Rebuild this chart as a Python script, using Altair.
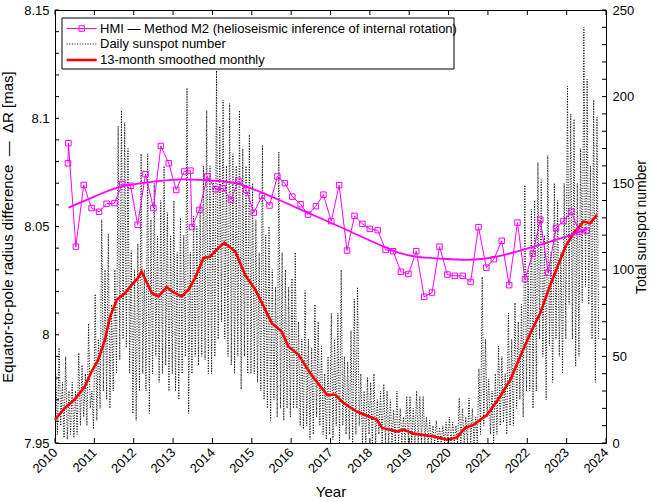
import altair as alt
import pandas as pd

# ---- HMI helioseismic equator-to-pole radius difference (72-day sets) ----
hmi_year = [2010.33, 2010.34, 2010.53, 2010.73, 2010.93, 2011.12, 2011.31, 2011.51, 2011.71, 2011.92,
            2012.10, 2012.30, 2012.50, 2012.69, 2012.89, 2013.08, 2013.28, 2013.44, 2013.48, 2013.67,
            2013.87, 2014.08, 2014.26, 2014.47, 2014.66, 2014.86, 2015.05, 2015.26, 2015.45, 2015.65,
            2015.84, 2016.03, 2016.24, 2016.43, 2016.63, 2016.82, 2017.02, 2017.22, 2017.42, 2017.61,
            2017.81, 2018.00, 2018.20, 2018.40, 2018.59, 2018.79, 2018.98, 2019.18, 2019.38, 2019.58,
            2019.77, 2019.97, 2020.16, 2020.36, 2020.56, 2020.76, 2020.96, 2021.15, 2021.35, 2021.54,
            2021.75, 2021.94, 2022.14, 2022.33, 2022.53, 2022.73, 2022.92, 2023.12, 2023.32, 2023.51]
hmi_dr = [8.0792, 8.0885, 8.0407, 8.0692, 8.0585, 8.0568, 8.0605, 8.0608, 8.0697, 8.0688,
          8.0508, 8.0742, 8.0585, 8.0872, 8.0792, 8.0669, 8.0754, 8.0758, 8.0497, 8.0577,
          8.0731, 8.0672, 8.0677, 8.0623, 8.0711, 8.0669, 8.0564, 8.0641, 8.0597, 8.0731,
          8.0700, 8.0638, 8.0603, 8.0555, 8.0594, 8.0647, 8.0525, 8.0691, 8.0389, 8.0549,
          8.0512, 8.0489, 8.0483, 8.0392, 8.0386, 8.0291, 8.0281, 8.0386, 8.0175, 8.0195,
          8.0407, 8.0278, 8.0272, 8.0272, 8.0244, 8.0497, 8.0310, 8.0349, 8.0434, 8.0229,
          8.0518, 8.0257, 8.0374, 8.0531, 8.0286, 8.0494, 8.0525, 8.0569, 8.0475, 8.0480]

# smooth trend through the HMI values
fit_year = [2010.34, 2011.0, 2011.70, 2012.5, 2013.22, 2014.0, 2014.65, 2015.5, 2016.36,
            2017.5, 2018.77, 2019.61, 2020.47, 2021.31, 2022.16, 2023.01, 2023.52]
fit_dr = [8.0587, 8.0638, 8.0685, 8.0707, 8.0718, 8.0712, 8.0697, 8.0638, 8.0569,
          8.0477, 8.0377, 8.0354, 8.0346, 8.0364, 8.0407, 8.0454, 8.0490]

# ---- 13-month smoothed monthly total sunspot number ----
ssn13_year = [2010.00, 2010.25, 2010.51, 2010.76, 2010.93, 2011.10, 2011.27, 2011.40, 2011.57, 2011.78,
              2011.95, 2012.10, 2012.20, 2012.46, 2012.63, 2012.84, 2012.97, 2013.22, 2013.39, 2013.56,
              2013.77, 2013.94, 2014.15, 2014.30, 2014.58, 2014.83, 2015.09, 2015.26, 2015.51, 2015.76,
              2015.93, 2016.19, 2016.48, 2016.74, 2016.91, 2017.12, 2017.33, 2017.67, 2018.18, 2018.31,
              2018.69, 2018.86, 2019.11, 2019.62, 2019.96, 2020.21, 2020.42, 2020.64, 2020.98, 2021.31,
              2021.57, 2021.82, 2022.08, 2022.33, 2022.54, 2022.67, 2022.97, 2023.18, 2023.43, 2023.60,
              2023.77]
ssn13 = [13.4, 20.2, 25.4, 32.7, 41.3, 48.1, 59.6, 73.0, 82.7, 86.6,
         91.3, 95.0, 99.0, 86.6, 84.6, 90.0, 87.5, 84.6, 88.5, 95.2,
         106.7, 107.7, 112.5, 115.7, 110.6, 97.1, 88.5, 80.8, 69.2, 64.4,
         55.7, 50.9, 40.4, 32.7, 27.9, 27.9, 23.1, 18.2, 13.4, 8.7,
         6.7, 7.7, 5.4, 3.8, 1.9, 3.2, 8.7, 10.6, 16.3, 26.9,
         36.5, 50.0, 63.5, 75.0, 88.5, 96.1, 113.4, 121.2, 127.9, 126.9,
         131.7]

# ---- daily total sunspot number: monthly peak and trough of the daily record ----
daily_high = {
    2010: [40, 55, 35, 50, 30, 35, 30, 52, 45, 40, 69, 30],
    2011: [86, 60, 129, 100, 121, 80, 100, 183, 192, 185, 170, 111],
    2012: [100, 115, 167, 100, 167, 129, 150, 120, 140, 160, 133, 120],
    2013: [140, 110, 130, 120, 205, 110, 131, 125, 138, 160, 192, 160],
    2014: [152, 215, 183, 198, 160, 196, 167, 160, 192, 170, 160, 178],
    2015: [150, 129, 110, 172, 120, 125, 100, 90, 168, 110, 100, 90],
    2016: [95, 110, 70, 60, 88, 60, 55, 80, 70, 56, 40, 50],
    2017: [75, 60, 75, 100, 50, 47, 65, 83, 90, 40, 30, 38],
    2018: [35, 40, 25, 30, 34, 30, 25, 19, 30, 20, 15, 27],
    2019: [27, 20, 30, 27, 27, 15, 13, 10, 13, 9, 10, 12],
    2020: [15, 12, 10, 26, 20, 15, 26, 20, 15, 43, 96, 60],
    2021: [37, 30, 40, 56, 50, 40, 75, 60, 81, 70, 80, 149],
    2022: [100, 135, 140, 162, 152, 120, 166, 110, 150, 140, 110, 150],
    2023: [206, 190, 187, 150, 170, 240, 210, 160, 198, 188],
}
daily_low = {
    2010: [5, 10, 3, 2, 5, 3, 5, 10, 15, 10, 20, 8],
    2011: [13, 20, 30, 25, 20, 30, 40, 48, 60, 55, 40, 17],
    2012: [13, 30, 40, 30, 17, 40, 50, 35, 40, 45, 30, 40],
    2013: [30, 25, 40, 50, 17, 40, 50, 45, 50, 48, 40, 40],
    2014: [50, 60, 70, 60, 50, 45, 40, 50, 31, 50, 40, 40],
    2015: [40, 35, 30, 25, 20, 13, 25, 15, 20, 13, 20, 15],
    2016: [20, 20, 10, 8, 10, 2, 5, 15, 10, 5, 2, 5],
    2017: [2, 10, 0, 10, 5, 2, 0, 5, 10, 0, 0, 5],
    2018: [0, 0, 5, 0, 0, 0, 0, 0, 0, 0, 0, 0],
    2019: [0, 0, 0, 0, 0, 0, 0, 0, 0, 0, 0, 0],
    2020: [0, 0, 0, 0, 0, 0, 0, 0, 0, 5, 10, 15],
    2021: [5, 0, 5, 10, 12, 5, 10, 10, 20, 25, 15, 30],
    2022: [30, 20, 30, 60, 50, 25, 56, 35, 60, 50, 40, 60],
    2023: [80, 60, 44, 50, 81, 90, 80, 60, 35, 60],
}

# ---- axis ticks ----
year_ticks = list(range(2010, 2025))
dr_labels = [7.95, 8.0, 8.05, 8.1, 8.15]
dr_ticks = [7.95, 7.96, 7.97, 7.98, 7.99, 8.0, 8.01, 8.02, 8.03, 8.04, 8.05, 8.06, 8.07,
            8.08, 8.09, 8.1, 8.11, 8.12, 8.13, 8.14, 8.15]
ssn_labels = [0, 50, 100, 150, 200, 250]
ssn_ticks = list(range(0, 251, 10))

legend_hmi = "HMI \u2014 Method M2 (helioseismic inference of internal rotation)"
legend_daily = "Daily sunspot number"
legend_smooth = "13-month smoothed monthly"

# ---- tables ----
daily_rows = []
for yr in sorted(daily_high):
    for m, (hi, lo) in enumerate(zip(daily_high[yr], daily_low[yr])):
        daily_rows.append({"year": yr + (m + 0.25) / 12, "ssn": hi})
        daily_rows.append({"year": yr + (m + 0.75) / 12, "ssn": lo})
daily_df = pd.DataFrame(daily_rows)
ssn13_df = pd.DataFrame({"year": ssn13_year, "ssn": ssn13})
hmi_df = pd.DataFrame({"year": hmi_year, "dr": hmi_dr})
fit_df = pd.DataFrame({"year": fit_year, "dr": fit_dr})

W, H = 551, 433
MAGENTA = "#ff00ff"
RED = "#ff0000"
FONT = "Liberation Sans"
DOT = [1, 1.6]

x_scale = alt.Scale(domain=[2010, 2024], nice=False, zero=False)
dr_scale = alt.Scale(domain=[7.95, 8.15], nice=False, zero=False)
ssn_scale = alt.Scale(domain=[0, 250], nice=False, zero=False)

# one shared encoding per scale so the layers merge into a single axis each
x_enc = alt.X(
    "year:Q", scale=x_scale,
    axis=alt.Axis(values=year_ticks, format="d", labelAngle=-45, labelAlign="right",
                  labelBaseline="middle", labelPadding=7, ticks=False, tickSize=0,
                  domain=False, grid=False, title="Year", titlePadding=9),
)
ssn_enc = alt.Y(
    "ssn:Q", scale=ssn_scale,
    axis=alt.Axis(orient="right", values=ssn_labels, format="d", ticks=False, tickSize=0,
                  domain=False, grid=False, labelPadding=6,
                  title="Total sunspot number", titleAngle=270, titleBaseline="top",
                  titlePadding=1, titleFontSize=14),
)
dr_enc = alt.Y(
    "dr:Q", scale=dr_scale,
    axis=alt.Axis(orient="left", values=dr_labels, format=".3~r", ticks=False, tickSize=0,
                  domain=False, grid=False, labelPadding=6,
                  title="Equator-to-pole radius difference \u00a0\u2014\u00a0 \u0394R [mas]",
                  titlePadding=8),
)

# sunspot side (right axis)
daily = alt.Chart(daily_df).mark_line(color="black", strokeWidth=1, strokeDash=DOT).encode(
    x=x_enc, y=ssn_enc
)
smooth = alt.Chart(ssn13_df).mark_line(color=RED, strokeWidth=2.6).encode(x=x_enc, y=ssn_enc)
ssn_tickmarks = alt.Chart(pd.DataFrame({"ssn": ssn_ticks})).mark_rule(color="black", strokeWidth=1).encode(
    y=ssn_enc, x=alt.value(W), x2=alt.value(W - 4)
)
right_side = alt.layer(daily, smooth, ssn_tickmarks)

# radius-difference side (left axis)
fit = alt.Chart(fit_df).mark_line(color=MAGENTA, strokeWidth=1.8, interpolate="natural").encode(
    x=x_enc, y=dr_enc
)
hmi_line = alt.Chart(hmi_df).mark_line(color=MAGENTA, strokeWidth=1).encode(x=x_enc, y=dr_enc)
hmi_pts = alt.Chart(hmi_df).mark_point(shape="square", filled=False, color=MAGENTA,
                                       size=30, strokeWidth=1, opacity=1).encode(x=x_enc, y=dr_enc)
dr_tickmarks = alt.Chart(pd.DataFrame({"dr": dr_ticks})).mark_rule(color="black", strokeWidth=1).encode(
    y=dr_enc, x=alt.value(0), x2=alt.value(4)
)
year_df = pd.DataFrame({"year": year_ticks})
year_bottom = alt.Chart(year_df).mark_rule(color="black", strokeWidth=1).encode(
    x=x_enc, y=alt.value(H), y2=alt.value(H - 5)
)
year_top = alt.Chart(year_df).mark_rule(color="black", strokeWidth=1).encode(
    x=x_enc, y=alt.value(0), y2=alt.value(5)
)
left_side = alt.layer(fit, hmi_line, hmi_pts, dr_tickmarks, year_bottom, year_top)

# legend box
LX0, LX1, LSYM, LTXT = 7, 399, 26.7, 45
ROWS = [18.5, 34, 50]
legend_parts = [
    alt.Chart().mark_rect(fill="white", stroke="black", strokeWidth=1).encode(
        x=alt.value(LX0), x2=alt.value(LX1), y=alt.value(8), y2=alt.value(59)),
    alt.Chart().mark_rule(color=MAGENTA, strokeWidth=1).encode(
        x=alt.value(LSYM - 15), x2=alt.value(LSYM + 15), y=alt.value(ROWS[0])),
    alt.Chart().mark_point(shape="square", filled=False, color=MAGENTA, size=30,
                           strokeWidth=1, opacity=1).encode(
        x=alt.value(LSYM), y=alt.value(ROWS[0])),
    alt.Chart().mark_rule(color="black", strokeWidth=1, strokeDash=DOT).encode(
        x=alt.value(LSYM - 15), x2=alt.value(LSYM + 15), y=alt.value(ROWS[1])),
    alt.Chart().mark_rule(color=RED, strokeWidth=2.6).encode(
        x=alt.value(LSYM - 15), x2=alt.value(LSYM + 15), y=alt.value(ROWS[2])),
]
for row, label in zip(ROWS, [legend_hmi, legend_daily, legend_smooth]):
    legend_parts.append(
        alt.Chart().mark_text(text=label, align="left", baseline="middle", font=FONT,
                              fontSize=13, color="black").encode(
            x=alt.value(LTXT), y=alt.value(row))
    )

chart = alt.layer(right_side, left_side, *legend_parts).resolve_scale(
    y="independent"
).properties(
    width=W, height=H,
    autosize=alt.AutoSizeParams(type="none"),
    padding={"left": 55, "top": 10, "right": 652 - 55 - W, "bottom": 502 - 10 - H},
    background="white",
).configure_view(
    stroke="black", strokeWidth=1
).configure_axis(
    labelFont=FONT, titleFont=FONT, labelFontSize=13, titleFontSize=15,
    titleFontWeight="normal", labelColor="black", titleColor="black",
)

chart.save("out.html", embed_options={"renderer": "svg", "actions": False})
